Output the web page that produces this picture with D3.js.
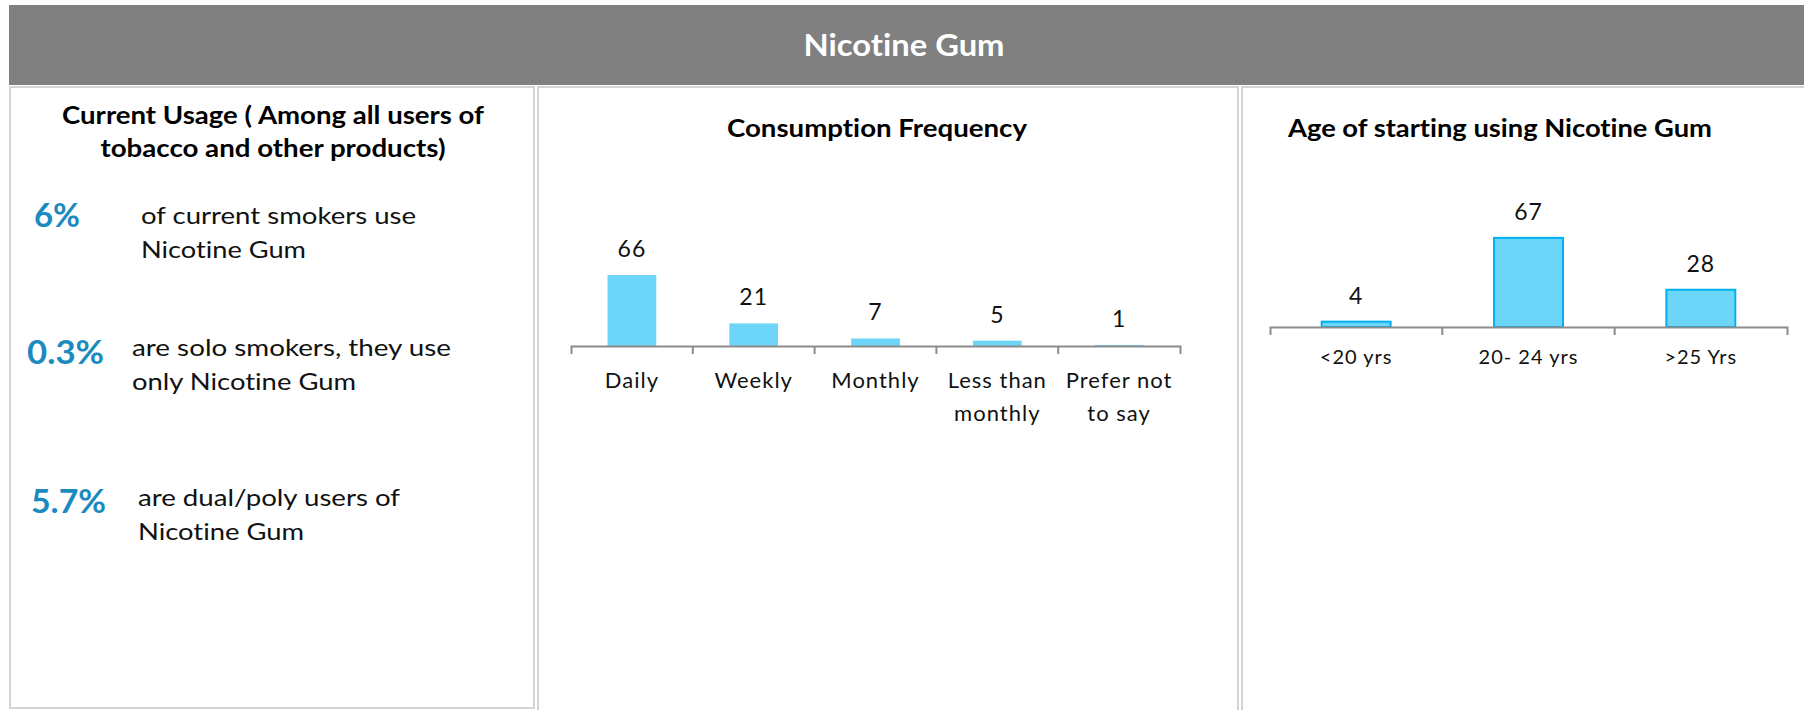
<!DOCTYPE html>
<html>
<head>
<meta charset="utf-8">
<script src="https://cdn.jsdelivr.net/npm/d3@7"></script>
<style>
  body { margin: 0; background: #fff; }
  svg { display: block; font-family: Lato, "Open Sans", sans-serif; font-variant-ligatures: none; }
</style>
</head>
<body>
<svg id="chart" width="1804" height="710"></svg>
<script>
// Data
const headerTitle = "Nicotine Gum";

const usageTitle = ["Current Usage ( Among all users of", "tobacco and other products)"];
const usageValues = ["6%", "0.3%", "5.7%"];
const usageTexts = [
  ["of current smokers use", "Nicotine Gum"],
  ["are solo smokers, they use", "only Nicotine Gum"],
  ["are dual/poly users of", "Nicotine Gum"]
];

const freqTitle = "Consumption Frequency";
const freqCategories = ["Daily", "Weekly", "Monthly", "Less than\nmonthly", "Prefer not\nto say"];
const freqValues = [66, 21, 7, 5, 1];

const ageTitle = "Age of starting using Nicotine Gum";
const ageCategories = ["<20 yrs", "20- 24 yrs", ">25 Yrs"];
const ageValues = [4, 67, 28];

const svg = d3.select("#chart");
const borderColor = "#d4d4d4";
const axisColor = "#8c8c8c";
const barFill = "#6dd5f7";
const pctColor = "#1a8ac0";

// stretch a text to the width
function fit(sel, w) {
  return sel.attr("textLength", w).attr("lengthAdjust", "spacingAndGlyphs");
}

// Header band
svg.append("rect")
  .attr("x", 9).attr("y", 5).attr("width", 1795).attr("height", 80)
  .attr("fill", "#808080");
fit(svg.append("text")
  .attr("x", 904).attr("y", 56)
  .attr("text-anchor", "middle")
  .attr("fill", "#fff")
  .style("font-size", "30px").style("font-weight", "bold")
  .text(headerTitle), 201);

// Panels
const panels = [
  { x: 10, w: 524, h: 621 },
  { x: 538, w: 700, h: 640 },
  { x: 1242, w: 580, h: 640 }
];
svg.selectAll("rect.panel")
  .data(panels)
  .enter()
  .append("rect")
  .attr("class", "panel")
  .attr("x", d => d.x).attr("y", 87)
  .attr("width", d => d.w).attr("height", d => d.h)
  .attr("fill", "#fff")
  .attr("stroke", borderColor)
  .attr("stroke-width", 2);

// Left panel: current usage
const titleRows = [{ y: 124, w: 422 }, { y: 157, w: 345 }];
usageTitle.forEach((t, i) => {
  fit(svg.append("text")
    .attr("x", 273).attr("y", titleRows[i].y)
    .attr("text-anchor", "middle")
    .style("font-size", "25px").style("font-weight", "bold")
    .text(t), titleRows[i].w);
});

const statRows = [
  { px: 34, pw: 46, py: 227, tx: 141, ty: 224, tw: [275, 165] },
  { px: 27, pw: 77, py: 364, tx: 132, ty: 356, tw: [319, 224] },
  { px: 31, pw: 75, py: 513, tx: 138, ty: 506, tw: [262, 166] }
];
usageValues.forEach((v, i) => {
  const r = statRows[i];
  fit(svg.append("text")
    .attr("x", r.px).attr("y", r.py)
    .attr("fill", pctColor)
    .style("font-size", "33px").style("font-weight", "bold")
    .text(v), r.pw);
  usageTexts[i].forEach((line, j) => {
    fit(svg.append("text")
      .attr("x", r.tx).attr("y", r.ty + j * 34)
      .attr("fill", "#111")
      .style("font-size", "24px")
      .text(line), r.tw[j]);
  });
});

// Bar chart helper
function barChart(opts) {
  const x = d3.scaleBand()
    .domain(opts.categories)
    .range([opts.x0, opts.x1])
    .paddingInner(0.6)
    .paddingOuter(0.3);
  const y = d3.scaleLinear().domain([0, 100]).range([opts.base, opts.base - opts.pxPer100]);
  const data = opts.categories.map((c, i) => ({ cat: c, value: opts.values[i] }));

  fit(svg.append("text")
    .attr("x", opts.titleX).attr("y", 137)
    .attr("text-anchor", "middle")
    .style("font-size", "25px").style("font-weight", "bold")
    .text(opts.title), opts.titleW);

  svg.selectAll(null)
    .data(data)
    .enter()
    .append("rect")
    .attr("x", d => x(d.cat))
    .attr("y", d => y(d.value))
    .attr("width", x.bandwidth())
    .attr("height", d => y(0) - y(d.value))
    .attr("fill", barFill)
    .attr("stroke", opts.stroke || "none")
    .attr("stroke-width", 2);

  // axis line with end ticks, boundary ticks between categories
  const axis = svg.append("g")
    .attr("transform", `translate(0,${opts.base})`)
    .call(d3.axisBottom(x).tickSize(0).tickSizeOuter(8).tickFormat(""));
  axis.select(".domain").attr("stroke", axisColor).attr("stroke-width", 2);
  const gap = x.step() - x.bandwidth();
  axis.selectAll("line.sep")
    .data(opts.categories.slice(1))
    .enter()
    .append("line")
    .attr("x1", d => x(d) - gap / 2).attr("x2", d => x(d) - gap / 2)
    .attr("y1", 0).attr("y2", 8)
    .attr("stroke", axisColor).attr("stroke-width", 2);

  svg.selectAll(null)
    .data(data)
    .enter()
    .append("text")
    .attr("x", d => x(d.cat) + x.bandwidth() / 2)
    .attr("y", d => y(d.value) - 18)
    .attr("text-anchor", "middle")
    .attr("fill", "#111")
    .style("font-size", "23px")
    .style("letter-spacing", "1px")
    .text(d => d.value);

  const labels = svg.selectAll(null)
    .data(data)
    .enter()
    .append("text")
    .attr("x", d => x(d.cat) + x.bandwidth() / 2)
    .attr("y", opts.base + opts.labelDy)
    .attr("text-anchor", "middle")
    .attr("fill", "#111")
    .style("font-size", opts.labelSize)
    .style("letter-spacing", "1px");
  labels.each(function (d) {
    const lines = d.cat.split("\n");
    d3.select(this).selectAll("tspan")
      .data(lines)
      .enter()
      .append("tspan")
      .attr("x", x(d.cat) + x.bandwidth() / 2)
      .attr("dy", (l, i) => (i === 0 ? 0 : 33))
      .text(l => l);
  });
}

barChart({
  title: freqTitle, titleX: 877, titleW: 300,
  categories: freqCategories, values: freqValues,
  x0: 571, x1: 1180, base: 346, pxPer100: 107.6,
  labelDy: 42, labelSize: "22px"
});

barChart({
  title: ageTitle, titleX: 1500, titleW: 424,
  categories: ageCategories, values: ageValues,
  x0: 1270, x1: 1787, base: 327, pxPer100: 133,
  labelDy: 37, labelSize: "20px", stroke: "#00b0f0"
});
</script>
</body>
</html>
